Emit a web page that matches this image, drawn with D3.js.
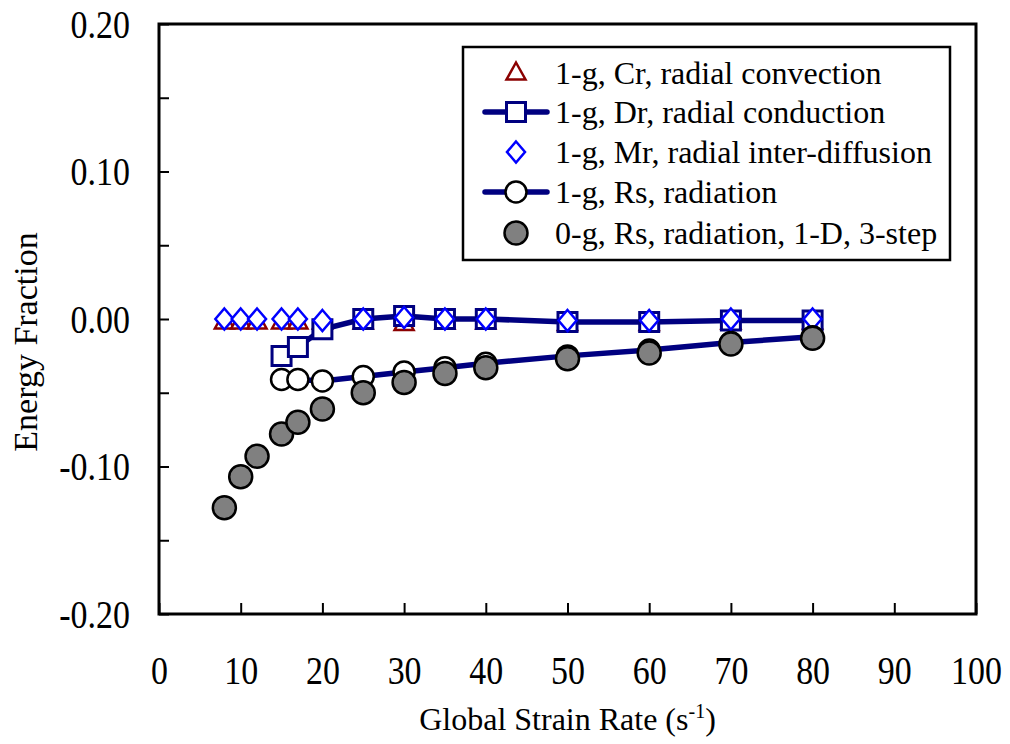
<!DOCTYPE html>
<html>
<head>
<meta charset="utf-8">
<script src="https://cdn.jsdelivr.net/npm/d3@7"></script>
<style>
  body { margin: 0; background: #fff; }
  text { font-family: "Liberation Serif", "Times New Roman", serif; fill: #000; }
</style>
</head>
<body>
<div id="chart"></div>
<script>
// data
var xTicks = [0, 10, 20, 30, 40, 50, 60, 70, 80, 90, 100];
var yTicks = [-0.20, -0.15, -0.10, -0.05, 0.00, 0.05, 0.10, 0.15, 0.20];

var rateCr = [8, 10, 12, 15, 17, 20, 25, 30, 35, 40, 50, 60, 70, 80];
var cr1g   = [-0.002, -0.002, -0.002, -0.002, -0.002, -0.002, -0.002, -0.003, -0.002, -0.002, -0.003, -0.003, -0.002, -0.002];

var rateMr = [8, 10, 12, 15, 17, 20, 25, 30, 35, 40, 50, 60, 70, 80];
var mr1g   = [0, 0, 0, 0, 0, -0.001, 0, 0.001, 0, 0, -0.001, -0.001, 0, 0];

var rateDr = [15, 17, 20, 25, 30, 35, 40, 50, 60, 70, 80];
var dr1g   = [-0.025, -0.019, -0.007, 0, 0.002, 0, 0, -0.002, -0.002, -0.001, -0.001];

var rateRs = [15, 17, 20, 25, 30, 35, 40, 50, 60, 70, 80];
var rs1g   = [-0.041, -0.041, -0.042, -0.039, -0.036, -0.033, -0.030, -0.025, -0.021, -0.016, -0.012];

var rate0g = [8, 10, 12, 15, 17, 20, 25, 30, 35, 40, 50, 60, 70, 80];
var rs0g   = [-0.128, -0.107, -0.093, -0.078, -0.070, -0.061, -0.050, -0.043, -0.037, -0.033, -0.027, -0.023, -0.017, -0.013];

var legendLabels = [
  "1-g, Cr, radial convection",
  "1-g, Dr, radial conduction",
  "1-g, Mr, radial inter-diffusion",
  "1-g, Rs, radiation",
  "0-g, Rs, radiation, 1-D, 3-step"
];

var navy = "#000080", blue = "#0000ff", darkRed = "#8b0000";

// margins
var margin = {top: 24, right: 34, bottom: 130, left: 159},
    width = 976 - margin.left,
    height = 614 - margin.top;

var x = d3.scaleLinear().domain([0, 100]).range([0, width]);
var y = d3.scaleLinear().domain([-0.2, 0.2]).range([height, 0]);

var svg = d3.select("#chart").append("svg")
    .attr("width", 1010)
    .attr("height", 744)
  .append("g")
    .attr("transform", `translate(${margin.left}, ${margin.top})`);

// x axis, ticks pointing inward
var xAxis = svg.append("g")
    .attr("transform", `translate(0, ${height})`)
    .call(d3.axisBottom(x).tickValues(xTicks).tickSizeInner(-11).tickSizeOuter(0).tickPadding(0));
xAxis.select(".domain").remove();
xAxis.selectAll("line").attr("stroke", "#000").attr("stroke-width", 2);
xAxis.selectAll("text")
    .attr("y", null).attr("dy", null)
    .attr("transform", "translate(0, 70) scale(0.87, 1)")
    .style("font-size", "39px")
    .style("font-family", "'Liberation Serif', serif")
    .attr("text-anchor", "middle");

// y axis, labels every 0.10 with a plain hyphen
var yAxis = svg.append("g")
    .call(d3.axisLeft(y).tickValues(yTicks).tickSizeInner(-10).tickSizeOuter(0)
      .tickFormat(d => Math.round(d * 100) % 10 === 0 ? d.toFixed(2).replace("-0.00", "0.00") : ""));
yAxis.select(".domain").remove();
yAxis.selectAll("line").attr("stroke", "#000").attr("stroke-width", 2);
yAxis.selectAll("text")
    .attr("x", null).attr("dy", null)
    .attr("transform", "translate(-29, 13) scale(0.87, 1)")
    .style("font-size", "39px")
    .style("font-family", "'Liberation Serif', serif")
    .attr("text-anchor", "end");

// frame
svg.append("rect")
    .attr("width", width).attr("height", height)
    .attr("fill", "none").attr("stroke", "#000").attr("stroke-width", 3);

// axis titles
svg.append("text")
    .attr("x", width / 2).attr("y", 706)
    .attr("text-anchor", "middle")
    .style("font-size", "32px")
    .html('Global Strain Rate (s<tspan dy="-12" font-size="20px">-1</tspan><tspan dy="12">)</tspan>');

svg.append("text")
    .attr("transform", `translate(${37 - margin.left}, ${342 - margin.top}) rotate(-90)`)
    .attr("text-anchor", "middle")
    .style("font-size", "34px")
    .text("Energy Fraction");

// marker shapes
var tri = "M0,-10.5L9.5,6.5L-9.5,6.5Z";
var dia = "M0,-10.5L9,0L0,10.5L-9,0Z";
var sq = "M-9.5,-9.5H9.5V9.5H-9.5Z";

var line = d3.line().x(d => x(d[0])).y(d => y(d[1]));

// Cr triangles
svg.selectAll("path.cr")
    .data(d3.zip(rateCr, cr1g)).enter()
  .append("path")
    .attr("d", tri)
    .attr("transform", d => `translate(${x(d[0])}, ${y(d[1])})`)
    .attr("fill", "#fff").attr("stroke", darkRed).attr("stroke-width", 2.5);

// Dr line + squares
var drData = d3.zip(rateDr, dr1g);
svg.append("path")
    .attr("d", line(drData))
    .attr("fill", "none").attr("stroke", navy).attr("stroke-width", 5.5);
svg.selectAll("path.dr")
    .data(drData).enter()
  .append("path")
    .attr("d", sq)
    .attr("transform", d => `translate(${x(d[0])}, ${y(d[1])})`)
    .attr("fill", "#fff").attr("stroke", navy).attr("stroke-width", 3);

// Mr diamonds
svg.selectAll("path.mr")
    .data(d3.zip(rateMr, mr1g)).enter()
  .append("path")
    .attr("d", dia)
    .attr("transform", d => `translate(${x(d[0])}, ${y(d[1])})`)
    .attr("fill", "#fff").attr("stroke", blue).attr("stroke-width", 2.5);

// Rs 1-g line + open circles
var rsData = d3.zip(rateRs, rs1g);
svg.append("path")
    .attr("d", line(rsData))
    .attr("fill", "none").attr("stroke", navy).attr("stroke-width", 5.5);
svg.selectAll("circle.rs")
    .data(rsData).enter()
  .append("circle")
    .attr("cx", d => x(d[0])).attr("cy", d => y(d[1]))
    .attr("r", 10.5)
    .attr("fill", "#fff").attr("stroke", "#000").attr("stroke-width", 2.5);

// Rs 0-g grey circles
svg.selectAll("circle.zg")
    .data(d3.zip(rate0g, rs0g)).enter()
  .append("circle")
    .attr("cx", d => x(d[0])).attr("cy", d => y(d[1]))
    .attr("r", 11.5)
    .attr("fill", "#808080").attr("stroke", "#000").attr("stroke-width", 2.5);

// legend
var lg = svg.append("g").attr("transform", `translate(${463 - margin.left}, ${47 - margin.top})`);
lg.append("rect")
    .attr("width", 487).attr("height", 213)
    .attr("fill", "#fff").attr("stroke", "#000").attr("stroke-width", 2.5);

var rowY = [26, 65, 105, 145, 186];
legendLabels.forEach(function(label, i) {
  var g = lg.append("g").attr("transform", `translate(0, ${rowY[i]})`);
  if (i === 1 || i === 3) {
    g.append("line").attr("x1", 22).attr("x2", 84)
      .attr("stroke", navy).attr("stroke-width", 5.5).attr("stroke-linecap", "round");
  }
  if (i === 0) g.append("path").attr("d", tri).attr("transform", "translate(53, 0)")
      .attr("fill", "#fff").attr("stroke", darkRed).attr("stroke-width", 2.5);
  if (i === 1) g.append("path").attr("d", sq).attr("transform", "translate(53, 0)")
      .attr("fill", "#fff").attr("stroke", navy).attr("stroke-width", 3);
  if (i === 2) g.append("path").attr("d", dia).attr("transform", "translate(53, 0)")
      .attr("fill", "#fff").attr("stroke", blue).attr("stroke-width", 2.5);
  if (i === 3) g.append("circle").attr("cx", 53).attr("r", 10.5)
      .attr("fill", "#fff").attr("stroke", "#000").attr("stroke-width", 2.5);
  if (i === 4) g.append("circle").attr("cx", 53).attr("r", 11.5)
      .attr("fill", "#808080").attr("stroke", "#000").attr("stroke-width", 2.5);
  g.append("text")
    .attr("x", 92).attr("dy", "0.35em")
    .style("font-size", "32px")
    .text(label);
});
</script>
</body>
</html>
